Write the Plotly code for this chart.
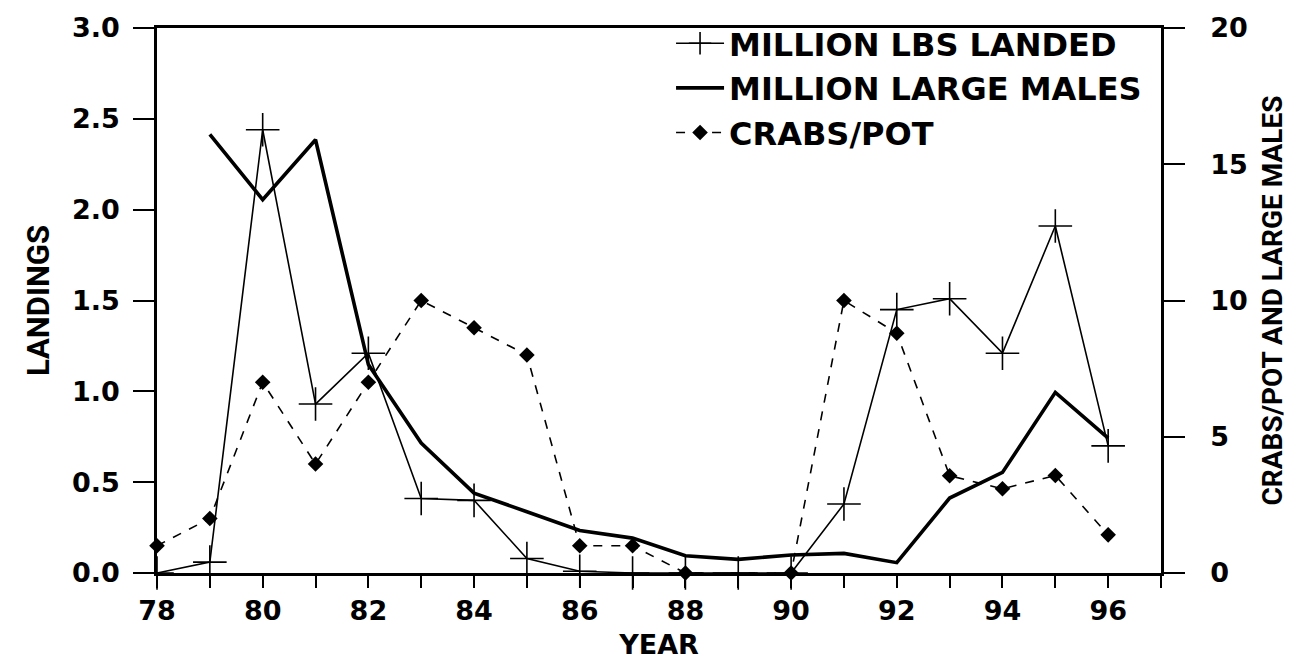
import plotly.graph_objects as go

years = list(range(78, 97))
lbs_landed = [0.0, 0.06, 2.44, 0.93, 1.21, 0.41, 0.40, 0.08, 0.01, 0.0, 0.0, 0.0, 0.0,
              0.38, 1.45, 1.51, 1.21, 1.91, 0.70]
large_males = [None, 16.1, 13.7, 15.9, 7.65, 4.77, 2.93, 2.25, 1.56, 1.28, 0.63, 0.50, 0.66,
               0.72, 0.38, 2.75, 3.69, 6.63, 4.95]
crabs_pot = [1.0, 2.0, 7.0, 4.0, 7.0, 10.0, 9.0, 8.0, 1.0, 1.0, 0.0, None, 0.0,
             10.0, 8.8, 3.57, 3.09, 3.58, 1.40]

tick_years = list(range(78, 98))
tick_text = [str(y) if y % 2 == 0 and y <= 96 else "" for y in tick_years]
left_ticks = [0, 0.5, 1, 1.5, 2, 2.5, 3]
left_tick_text = ["0.0", "0.5", "1.0", "1.5", "2.0", "2.5", "3.0"]
right_ticks = [0, 5, 10, 15, 20]

FONT = "DejaVu Sans, Verdana, sans-serif"
NARROW = "Roboto, Liberation Sans, sans-serif"

fig = go.Figure()
fig.add_trace(go.Scatter(
    x=years, y=lbs_landed, name="MILLION LBS LANDED", mode="lines+markers",
    line=dict(color="black", width=1.6),
    marker=dict(symbol="cross-thin", size=24, line=dict(color="black", width=1.6)),
    cliponaxis=False, yaxis="y"))
fig.add_trace(go.Scatter(
    x=years, y=large_males, name="MILLION LARGE MALES", mode="lines",
    line=dict(color="black", width=3.6),
    cliponaxis=False, yaxis="y2"))
fig.add_trace(go.Scatter(
    x=years, y=crabs_pot, name="CRABS/POT", mode="lines+markers",
    line=dict(color="black", width=1.6, dash="dash"), connectgaps=True,
    marker=dict(symbol="diamond", size=12, color="black"),
    cliponaxis=False, yaxis="y2"))

fig.update_layout(
    width=1296, height=660,
    margin=dict(l=149, r=143, t=20, b=95, autoexpand=False),
    paper_bgcolor="white", plot_bgcolor="white",
    font=dict(family=FONT, color="black", size=26),
    showlegend=True,
    legend=dict(x=0.512, y=1.022, xanchor="left", yanchor="top",
                bgcolor="rgba(255,255,255,0)",
                font=dict(family=FONT, size=32, color="black", weight="bold"),
                itemwidth=48, tracegroupgap=0),
    xaxis=dict(range=[78, 97], tickmode="array", tickvals=tick_years, ticktext=tick_text,
               showgrid=False, zeroline=False, showline=True, linecolor="black", linewidth=2.5,
               mirror=True, ticks="outside", ticklen=12, tickwidth=2, tickcolor="black",
               tickfont=dict(family=FONT, size=27, weight="bold"),
               title=dict(text="YEAR", font=dict(family=FONT, size=27, weight="bold"), standoff=10)),
    yaxis=dict(range=[0, 3], tickmode="array", tickvals=left_ticks, ticktext=left_tick_text,
               showgrid=False, zeroline=False, showline=True, linecolor="black", linewidth=2.5,
               ticks="outside", ticklen=21, tickwidth=2, tickcolor="black", ticklabelstandoff=8,
               tickfont=dict(family=FONT, size=27, weight="bold"),
               title=dict(text="LANDINGS", font=dict(family=NARROW, size=31, weight="bold"), standoff=14)),
    yaxis2=dict(range=[0, 20], overlaying="y", side="right", tickmode="array",
                tickvals=right_ticks, showgrid=False, zeroline=False,
                showline=True, linecolor="black", linewidth=2.5,
                ticks="outside", ticklen=21, tickwidth=2, tickcolor="black", ticklabelstandoff=20,
                tickfont=dict(family=FONT, size=27, weight="bold"),
                title=dict(text="CRABS/POT AND LARGE MALES", font=dict(family=NARROW, size=28, weight="bold"),
                           standoff=16)),
)

fig.write_html("out.html")
